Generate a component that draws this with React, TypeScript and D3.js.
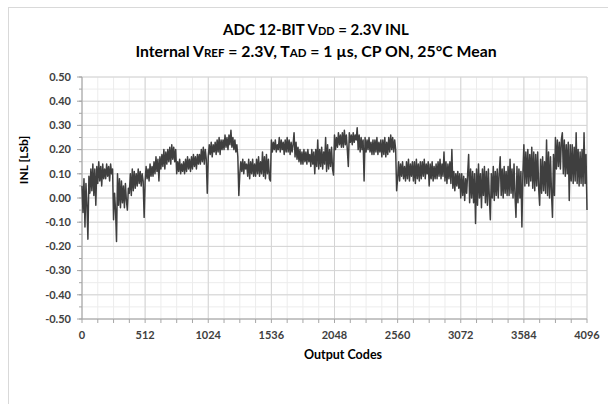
import React from "react";
import * as d3 from "d3";

const xTickValues = [0, 512, 1024, 1536, 2048, 2560, 3072, 3584, 4096];
const yTickValues = [-0.5, -0.4, -0.3, -0.2, -0.1, 0, 0.1, 0.2, 0.3, 0.4, 0.5];
const codeStep = 8;

const inlValues = [
  0.05, -0.06, 0.08, -0.12, 0.06, -0.03, -0.17, 0.09,
  0.02, 0.12, 0.03, 0.14, 0.01, 0.12, -0.03, 0.13,
  0.06, 0.15, 0.07, 0.13, 0.05, 0.14, 0.08, 0.12,
  0.08, 0.14, 0.09, 0.13, 0.07, 0.14, 0.1, 0.12,
  -0.09, 0.02, -0.05, -0.18, 0.1, -0.03, 0.08, -0.04,
  0.07, -0.02, 0.05, -0.04, 0.06, -0.01, -0.05, 0.04,
  0.02, 0.1, 0.01, 0.12, 0.03, 0.11, 0.04, 0.1,
  0.05, 0.12, 0.06, 0.11, 0.05, 0.1, 0.07, -0.08,
  0.07, 0.13, 0.08, 0.12, 0.07, 0.14, 0.09, 0.13,
  0.09, 0.15, 0.1, 0.17, 0.11, 0.16, 0.07, 0.17,
  0.12, 0.18, 0.13, 0.2, 0.12, 0.19, 0.14, 0.2,
  0.15, 0.21, 0.14, 0.22, 0.16, 0.21, 0.15, 0.2,
  0.1, 0.15, 0.11, 0.16, 0.1, 0.14, 0.11, 0.15,
  0.1, 0.16, 0.11, 0.17, 0.12, 0.16, 0.11, 0.17,
  0.12, 0.18, 0.13, 0.17, 0.12, 0.18, 0.14, 0.18,
  0.14, 0.2, 0.15, 0.21, 0.14, 0.2, 0.16, 0.02,
  0.17, 0.22, 0.18, 0.23, 0.17, 0.22, 0.19, 0.23,
  0.18, 0.24, 0.19, 0.25, 0.18, 0.24, 0.2, 0.24,
  0.2, 0.26, 0.21, 0.25, 0.2, 0.26, 0.22, 0.28,
  0.21, 0.25, 0.2, 0.24, 0.19, 0.22, 0.17, 0.01,
  0.1, 0.15, 0.11, 0.16, 0.1, 0.15, 0.12, 0.14,
  0.09, 0.16, 0.08, 0.15, 0.1, 0.16, 0.09, 0.14,
  0.09, 0.16, 0.1, 0.17, 0.09, 0.15, 0.1, 0.19,
  0.09, 0.17, 0.08, 0.18, 0.1, 0.16, 0.08, 0.07,
  0.24, 0.19, 0.23, 0.2, 0.24, 0.19, 0.22, 0.2,
  0.25, 0.19, 0.24, 0.2, 0.23, 0.18, 0.24, 0.19,
  0.25, 0.19, 0.24, 0.18, 0.23, 0.19, 0.22, 0.27,
  0.17, 0.23, 0.16, 0.21, 0.15, 0.2, 0.14, 0.19,
  0.14, 0.2, 0.15, 0.19, 0.14, 0.2, 0.15, 0.18,
  0.13, 0.2, 0.14, 0.19, 0.1, 0.2, 0.13, 0.24,
  0.12, 0.2, 0.13, 0.21, 0.12, 0.19, 0.14, 0.25,
  0.11, 0.22, 0.12, 0.2, 0.13, 0.21, 0.12, 0.095,
  0.26, 0.2, 0.25, 0.21, 0.27, 0.22, 0.26, 0.21,
  0.27, 0.21, 0.28, 0.22, 0.26, 0.2, 0.13, 0.27,
  0.23, 0.26, 0.22, 0.27, 0.23, 0.26, 0.24, 0.29,
  0.2, 0.26, 0.19, 0.25, 0.2, 0.24, 0.07, 0.25,
  0.19, 0.24, 0.2, 0.25, 0.19, 0.23, 0.18, 0.24,
  0.18, 0.24, 0.19, 0.25, 0.18, 0.23, 0.19, 0.24,
  0.17, 0.24, 0.18, 0.25, 0.17, 0.23, 0.18, 0.25,
  0.19, 0.26, 0.2, 0.25, 0.19, 0.24, 0.2, 0.03,
  0.08, 0.15, 0.07, 0.14, 0.09, 0.15, 0.08, 0.13,
  0.07, 0.15, 0.08, 0.16, 0.07, 0.14, 0.09, 0.15,
  0.07, 0.15, 0.06, 0.16, 0.08, 0.14, 0.07, 0.15,
  0.08, 0.15, 0.09, 0.16, 0.08, 0.14, 0.1, 0.15,
  0.05, 0.14, 0.08, 0.15, 0.07, 0.13, 0.08, 0.14,
  0.08, 0.15, 0.09, 0.16, 0.08, 0.14, 0.09, 0.19,
  0.07, 0.15, 0.06, 0.14, 0.08, 0.15, 0.06, 0.2,
  0.04, 0.11, 0.03, 0.1, 0.05, 0.11, 0.04, 0.1,
  0.0, 0.1, 0.01, 0.09, -0.01, 0.08, 0.02, 0.1,
  0.18, -0.02, 0.12, 0.0, 0.11, -0.02, 0.1, -0.105,
  0.12, -0.03, 0.14, 0.0, 0.1, -0.04, 0.12, 0.01,
  0.13, -0.02, 0.11, -0.03, 0.12, 0.0, -0.09, 0.1,
  0.0, 0.13, -0.01, 0.11, 0.01, 0.12, 0.0, 0.1,
  0.17, 0.01, 0.12, 0.0, 0.13, 0.02, 0.11, 0.01,
  0.13, 0.01, 0.16, 0.02, 0.12, 0.0, 0.14, 0.01,
  -0.08, 0.13, -0.02, 0.12, 0.0, 0.11, -0.12, 0.1,
  0.22, 0.05, 0.19, 0.06, 0.2, 0.05, 0.18, 0.07,
  0.21, 0.04, 0.19, 0.03, 0.18, 0.05, 0.19, 0.04,
  -0.03, 0.16, 0.02, 0.17, 0.03, 0.15, 0.02, 0.24,
  0.01, 0.19, 0.0, 0.17, 0.02, -0.08, 0.18, 0.01,
  0.25, 0.12, 0.24, 0.13, 0.23, 0.12, 0.24, 0.27,
  0.1, 0.24, 0.09, 0.22, 0.1, 0.23, -0.01, 0.22,
  0.07, 0.22, 0.06, 0.21, 0.07, 0.27, 0.06, 0.2,
  0.05, 0.19, 0.06, 0.2, 0.05, 0.27, 0.06, 0.18,
  -0.05,
];

const W = 608;
const H = 404;
const M = { left: 82, right: 587, top: 77, bottom: 319 };
const FONT = "Lato, 'Open Sans', sans-serif";
const TXT = "#404040";

export default function App() {
  const x = d3.scaleLinear().domain([0, 4096]).range([M.left, M.right]);
  const y = d3.scaleLinear().domain([-0.5, 0.5]).range([M.bottom, M.top]);

  const minorX = d3.range(0, 4096 + 1, 128);
  const minorY = d3.range(-0.5, 0.5001, 0.05).map((v) => Math.round(v * 100) / 100);

  const line = d3
    .line<number>()
    .x((_, i) => x(i * codeStep))
    .y((d) => y(d));

  return (
    <div style={{ position: "absolute", left: 0, top: 0 }}>
      <svg width={W} height={H} style={{ display: "block", background: "#fff" }}>
        <rect x={8.5} y={7.5} width={620} height={420} fill="#fff" stroke="#d9d9d9" />
        {minorX.map((c) => (
          <line key={"mx" + c} x1={x(c)} x2={x(c)} y1={M.top} y2={M.bottom} stroke="#ececec" />
        ))}
        {minorY.map((v) => (
          <line key={"my" + v} x1={M.left} x2={M.right} y1={y(v)} y2={y(v)} stroke="#ececec" />
        ))}
        {xTickValues.map((c) => (
          <line key={"gx" + c} x1={x(c)} x2={x(c)} y1={M.top} y2={M.bottom} stroke="#d4d4d4" />
        ))}
        {yTickValues.map((v) => (
          <line key={"gy" + v} x1={M.left} x2={M.right} y1={y(v)} y2={y(v)} stroke="#d4d4d4" />
        ))}
        <line x1={M.left} x2={M.left} y1={M.top} y2={M.bottom} stroke="#a6a6a6" />
        <line x1={M.left} x2={M.right} y1={M.bottom} y2={M.bottom} stroke="#a6a6a6" />
        {yTickValues.map((v) => (
          <line key={"ty" + v} x1={M.left - 5} x2={M.left} y1={y(v)} y2={y(v)} stroke="#a6a6a6" />
        ))}
        {minorY.map((v) => (
          <line key={"tmy" + v} x1={M.left - 3} x2={M.left} y1={y(v)} y2={y(v)} stroke="#a6a6a6" />
        ))}
        {minorX.map((c) => (
          <line key={"tx" + c} x1={x(c)} x2={x(c)} y1={M.bottom} y2={M.bottom + 4} stroke="#a6a6a6" />
        ))}
        <path
          d={line(inlValues) || ""}
          fill="none"
          stroke="#3f3f3f"
          strokeWidth={1.5}
          strokeLinejoin="round"
        />
        {yTickValues.map((v) => (
          <text
            key={"ly" + v}
            x={M.left - 11}
            y={y(v)}
            dy="0.35em"
            textAnchor="end"
            fontFamily={FONT}
            fontWeight="bold"
            fontSize={11}
            fill={TXT}
          >
            {d3.format(".2f")(v).replace("−", "-")}
          </text>
        ))}
        {xTickValues.map((c) => (
          <text
            key={"lx" + c}
            x={x(c)}
            y={M.bottom + 16}
            dy="0.35em"
            textAnchor="middle"
            fontFamily={FONT}
            fontWeight="bold"
            fontSize={11}
            fill={TXT}
          >
            {c}
          </text>
        ))}
        <text
          x={343}
          y={359}
          textAnchor="middle"
          fontFamily={FONT}
          fontWeight="bold"
          fontSize={12.5}
          fill="#000"
        >
          Output Codes
        </text>
        <text
          transform={`translate(28,160) rotate(-90)`}
          textAnchor="middle"
          fontFamily={FONT}
          fontWeight="bold"
          fontSize={12}
          fill="#000"
        >
          INL [LSb]
        </text>
        <text x={316} y={35} textAnchor="middle" fontFamily={FONT} fontWeight="bold" fontSize={15} fill="#000">
          ADC 12-BIT V<tspan fontSize={11}>DD</tspan> = 2.3V INL
        </text>
        <text x={316} y={56.5} textAnchor="middle" fontFamily={FONT} fontWeight="bold" fontSize={15.8} fill="#000">
          Internal V<tspan fontSize={11.5}>REF</tspan> = 2.3V, T<tspan fontSize={11.5}>AD</tspan> = 1 µs, CP ON, 25°C Mean
        </text>
      </svg>
    </div>
  );
}
